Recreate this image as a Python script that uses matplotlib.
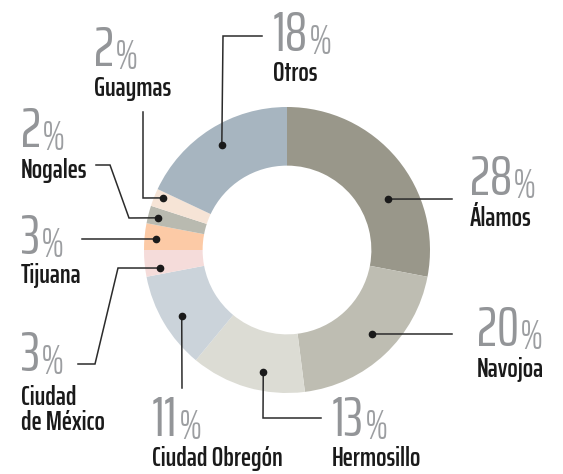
import matplotlib.pyplot as plt
import numpy as np

# data
cities = ['Álamos', 'Navojoa', 'Hermosillo', 'Ciudad Obregón', 'Ciudad\nde México',
          'Tijuana', 'Nogales', 'Guaymas', 'Otros']
shares = [28, 20, 13, 11, 3, 3, 2, 2, 18]
colors = ['#99978a', '#bebdb2', '#dcdcd4', '#cbd3da', '#f5dcda',
          '#fccaa6', '#b9bab0', '#f6e4d6', '#a7b5c0']

W, H = 563, 474
plt.rcParams['font.family'] = ['Saira ExtraCondensed', 'DejaVu Sans']

fig = plt.figure(figsize=(W / 100, H / 100), dpi=100)
ax = fig.add_axes([0, 0, 1, 1])

cx, cy, R = 287, H - 250, 143
wedges, _ = ax.pie(shares, colors=colors, startangle=90, counterclock=False,
                   radius=R, center=(cx, cy),
                   wedgeprops=dict(width=R * 0.41, linewidth=0))
ax.set_xlim(0, W)
ax.set_ylim(0, H)
ax.set_aspect('equal')
ax.axis('off')

# label layout (pixel coords, y from top): number baseline, name baseline,
# leader elbows, dot angle offset / radius fraction
layout = {
    'Álamos':          dict(num=(470, 195), name=(470, 226), path=[(452, 199)], da=-12.8, r=0.79),
    'Navojoa':         dict(num=(477, 346), name=(477, 377), path=[(452, 334)], da=2.1, r=0.835),
    'Hermosillo':      dict(num=(332, 436), name=(332, 466), path=[(321, 418), (263, 418)], da=5.2, r=0.87),
    'Ciudad Obregón':  dict(num=(152, 436), name=(152, 466), path=[(182, 388)], da=1.6, r=0.87),
    'Ciudad\nde México': dict(num=(21, 371), name=(21, 430), path=[(78, 364), (95, 364), (118, 268)], da=2.7, r=0.895),
    'Tijuana':         dict(num=(21, 254), name=(21, 283), path=[(82, 239)], da=0.6, r=0.92),
    'Nogales':         dict(num=(21, 147), name=(21, 178), path=[(96, 165), (110, 165), (129, 218)], da=0.4, r=0.93),
    'Guaymas':         dict(num=(94, 66), name=(94, 96), path=[(143, 112), (143, 198)], da=-1.2, r=0.94),
    'Otros':           dict(num=(273, 51), name=(273, 81), path=[(262, 36), (223, 36)], da=-0.6, r=0.865),
}

for w, city, val in zip(wedges, cities, shares):
    L = layout[city]
    ang = np.deg2rad((w.theta1 + w.theta2) / 2 + L['da'])
    dot = (cx + L['r'] * R * np.cos(ang), cy + L['r'] * R * np.sin(ang))
    pts = [(x, H - y) for x, y in L['path']] + [dot]
    xs, ys = zip(*pts)
    ax.plot(xs, ys, color='#2b2b2b', lw=1.1, solid_joinstyle='miter')
    ax.plot(*dot, 'o', color='#1a1a1a', ms=4.5)

    nx, ny = L['num']
    t = ax.text(nx, H - ny, str(val), fontsize=40, color='#939598',
                ha='left', va='baseline', fontweight=400)
    ax.annotate('%', xy=(1, 0), xycoords=t, xytext=(0.5, 0), textcoords='offset points',
                fontsize=31, color='#9c9ea1', ha='left', va='bottom', fontweight=300)
    mx, my = L['name']
    ax.text(mx, H - my, city, fontsize=19.5, color='#1a1a1a', ha='left',
            va='baseline', linespacing=1.0, fontweight=600)

fig.savefig('out.png', dpi=100)
